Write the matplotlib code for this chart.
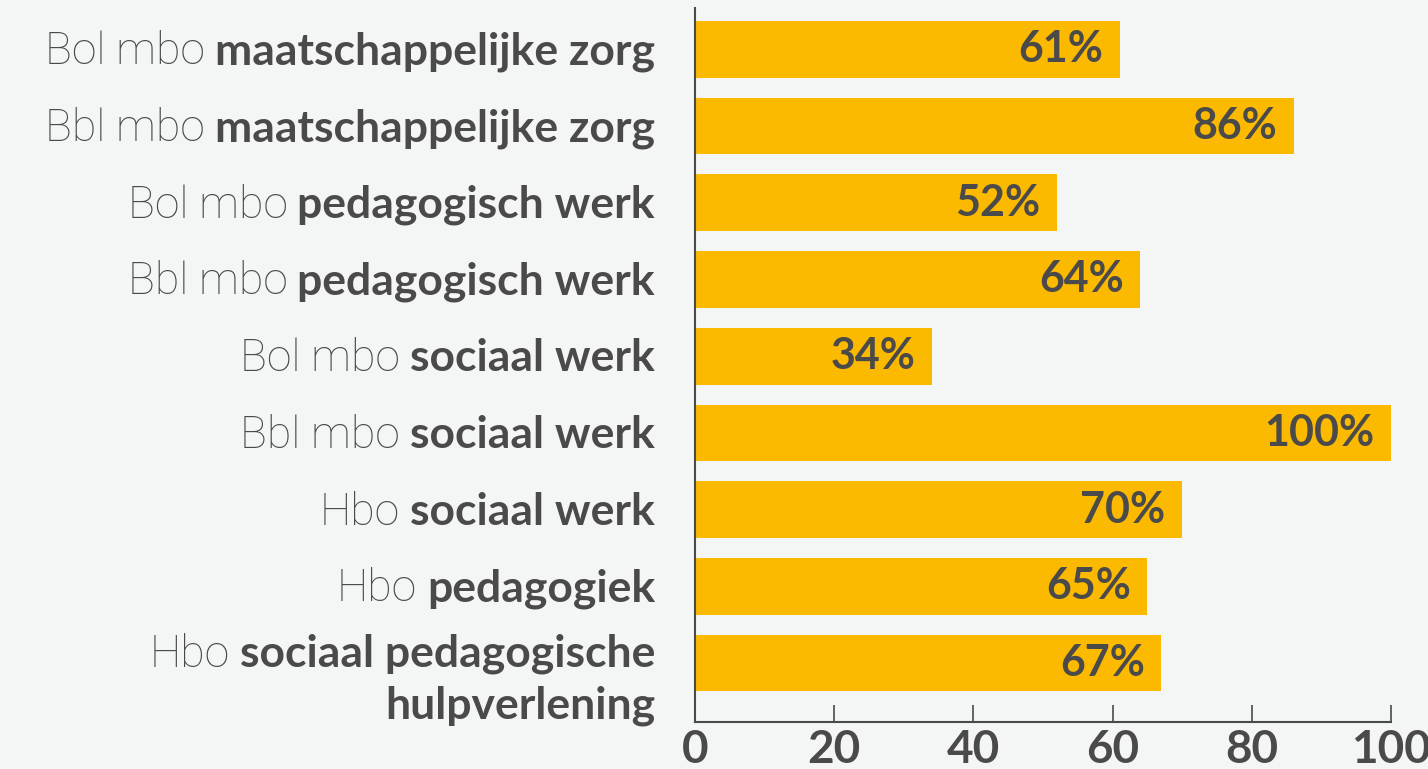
import matplotlib.pyplot as plt

BG = '#f4f6f5'
BAR = '#fbb900'
TXT = '#4a4a4a'

prefixes = ['Bol mbo', 'Bbl mbo', 'Bol mbo', 'Bbl mbo', 'Bol mbo',
            'Bbl mbo', 'Hbo', 'Hbo', 'Hbo']
names = ['maatschappelijke zorg', 'maatschappelijke zorg', 'pedagogisch werk',
         'pedagogisch werk', 'sociaal werk', 'sociaal werk', 'sociaal werk',
         'pedagogiek', 'sociaal pedagogische\nhulpverlening']
values = [61, 86, 52, 64, 34, 100, 70, 65, 67]
xticks = [0, 20, 40, 60, 80, 100]

plt.rcParams['font.family'] = ['Lato', 'DejaVu Sans']

fig = plt.figure(figsize=(14.28, 7.69), dpi=100, facecolor=BG)
ax = fig.add_axes([0.4867, 0.0611, 0.4874, 0.9285], facecolor=BG)

y = list(range(len(values)))
ax.barh(y, values, height=0.74, color=BAR, zorder=2)
ax.set_ylim(8.77, -0.54)
ax.set_xlim(0, 100)

for yi, v in zip(y, values):
    ax.annotate(f'{v}%', (v, yi), xytext=(-12, 0), textcoords='offset points',
                ha='right', va='center', fontsize=31, fontweight='bold', color=TXT)

ax.set_yticks([])
ax.set_xticks(xticks)
ax.set_xticklabels([str(t) for t in xticks], fontsize=33, fontweight='bold', color=TXT)
ax.tick_params(axis='x', direction='in', length=12, width=1.2, color=TXT, pad=5)
for s in ['top', 'right']:
    ax.spines[s].set_visible(False)
for s in ['left', 'bottom']:
    ax.spines[s].set_color(TXT)
    ax.spines[s].set_linewidth(1.5)

# category labels: light prefix + bold name, right aligned left of the axis
fig.canvas.draw()
renderer = fig.canvas.get_renderer()
H = fig.bbox.height
xlab = 655 / 1428
for yi, pre, name in zip(y, prefixes, names):
    lines = name.split('\n')
    n = len(lines)
    center = H - ax.transData.transform((0, yi))[1]  # from top, pixels
    for k, line in enumerate(lines):
        base = center + 15 - (n - 1) * 11 + k * 52
        yfig = 1 - base / H
        t = fig.text(xlab, yfig, line, ha='right', va='baseline',
                     fontsize=32, fontweight='bold', color=TXT)
        if k == 0:
            bb = t.get_window_extent(renderer)
            fig.text(bb.x0 / fig.bbox.width - 0.007, yfig, pre, ha='right',
                     va='baseline', fontsize=32, color=TXT,
                     family=['Roboto', 'DejaVu Sans'], fontweight='light')

fig.savefig('out.png', dpi=100, facecolor=BG)
